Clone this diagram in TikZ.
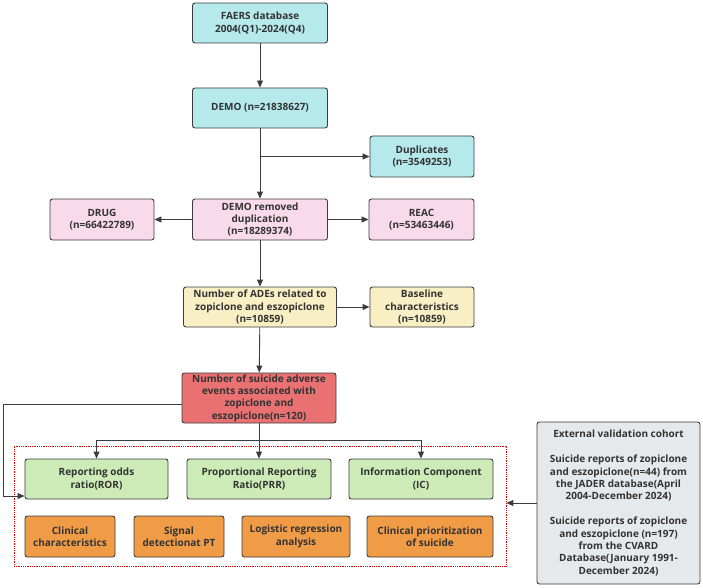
\documentclass[tikz,border=0pt]{standalone}
\usepackage{fontspec}
\setsansfont{Open Sans}
\usetikzlibrary{arrows.meta}
\definecolor{linegray}{HTML}{3C3C3C}
\definecolor{textgray}{HTML}{333333}
\definecolor{cyanbox}{HTML}{B5E9EB}
\definecolor{pinkbox}{HTML}{F8DAEA}
\definecolor{yellowbox}{HTML}{F8EFC4}
\definecolor{redbox}{HTML}{E97172}
\definecolor{greenbox}{HTML}{CDEBB7}
\definecolor{orangebox}{HTML}{F09B46}
\definecolor{graybox}{HTML}{E6E9EC}
\begin{document}
\begin{tikzpicture}[x=1pt, y=-1pt, font=\sffamily\bfseries\fontsize{10}{12.4}\selectfont,
    box/.style={draw=linegray, rounded corners=2.5pt, line width=0.9pt, align=center, text=textgray, inner sep=1pt},
    flow/.style={draw=linegray, line width=0.9pt, -{Triangle[length=7pt,width=6pt]}}]
  \useasboundingbox (0,0) rectangle (703,588);
  % FAERS part
  \node[box, fill=cyanbox, minimum width=135pt, minimum height=40pt] (faers) at (260,23) {FAERS database\\2004(Q1)-2024(Q4)};
  \node[box, fill=cyanbox, minimum width=135pt, minimum height=40pt] (demo) at (260,108) {DEMO (n=21838627)};
  \node[box, fill=cyanbox, minimum width=104pt, minimum height=41pt] (dup) at (422,156.5) {Duplicates\\(n=3549253)};
  \node[box, fill=pinkbox, minimum width=135pt, minimum height=41pt] (remdup) at (260,219.5) {DEMO removed\\duplication\\(n=18289374)};
  \node[box, fill=pinkbox, minimum width=104pt, minimum height=41pt] (drug) at (102,219.5) {DRUG\\(n=66422789)};
  \node[box, fill=pinkbox, minimum width=105pt, minimum height=41pt] (reac) at (421.5,219.5) {REAC\\(n=53463446)};
  \node[box, fill=yellowbox, minimum width=153pt, minimum height=40pt] (ades) at (260,307) {Number of ADEs related to\\zopiclone and eszopiclone\\(n=10859)};
  \node[box, fill=yellowbox, minimum width=104pt, minimum height=40pt] (base) at (422,307) {Baseline\\characteristics\\(n=10859)};
  \node[box, fill=redbox, minimum width=154pt, minimum height=50pt] (suic) at (259,398) {Number of suicide adverse\\events associated with\\zopiclone and\\eszopiclone(n=120)};
  % methods
  \node[draw=red!85!black, densely dotted, line width=0.8pt, minimum width=492pt, minimum height=120pt, inner sep=0pt] (frame) at (260,506) {};
  \node[box, fill=greenbox, minimum width=143pt, minimum height=40pt] (ror) at (96.5,479) {Reporting odds\\ratio(ROR)};
  \node[box, fill=greenbox, minimum width=144pt, minimum height=40pt] (prr) at (259,479) {Proportional Reporting\\Ratio(PRR)};
  \node[box, fill=greenbox, minimum width=144pt, minimum height=40pt] (ic) at (421,479) {Information Component\\(IC)};
  \node[box, fill=orangebox, minimum width=90pt, minimum height=41pt] (clin) at (70,536.5) {Clinical\\characteristics};
  \node[box, fill=orangebox, minimum width=90pt, minimum height=41pt] (sig) at (179,536.5) {Signal\\detectionat PT};
  \node[box, fill=orangebox, minimum width=108pt, minimum height=41pt] (logit) at (296,536.5) {Logistic regression\\analysis};
  \node[box, fill=orangebox, minimum width=126pt, minimum height=41pt] (prio) at (430,536.5) {Clinical prioritization\\of suicide};
  \node[box, fill=graybox, minimum width=163pt, minimum height=162pt] (ext) at (618.5,503) {External validation cohort\\[12.4pt]Suicide reports of zopiclone\\and eszopiclone(n=44) from\\the JADER database(April\\2004-December 2024)\\[12.4pt]Suicide reports of zopiclone\\and eszopiclone (n=197)\\from the CVARD\\Database(January 1991-\\December 2024)};
  % connectors
  \draw[flow] (faers) -- (demo);
  \draw[flow] (demo) -- (remdup);
  \draw[flow] (demo.south |- dup.west) -- (dup.west);
  \draw[flow] (remdup) -- (drug);
  \draw[flow] (remdup) -- (reac);
  \draw[flow] (remdup) -- (ades);
  \draw[flow] (ades) -- (base);
  \draw[flow] (ades) -- (suic);
  \coordinate (split) at (259,440);
  \draw[draw=linegray, line width=0.9pt] (suic) -- (split);
  \foreach \m in {ror,prr,ic} \draw[flow] (split -| \m.north) -- (\m.north);
  \draw[draw=linegray, line width=0.9pt] (split -| ror.north) -- (split -| ic.north);
  \draw[flow] ([yshift=-6pt]suic.west) -- (3,404) |- ([yshift=-17pt]ror.west);
  \draw[flow] (ext.west) -- (ext.west -| frame.east);
\end{tikzpicture}
\end{document}
